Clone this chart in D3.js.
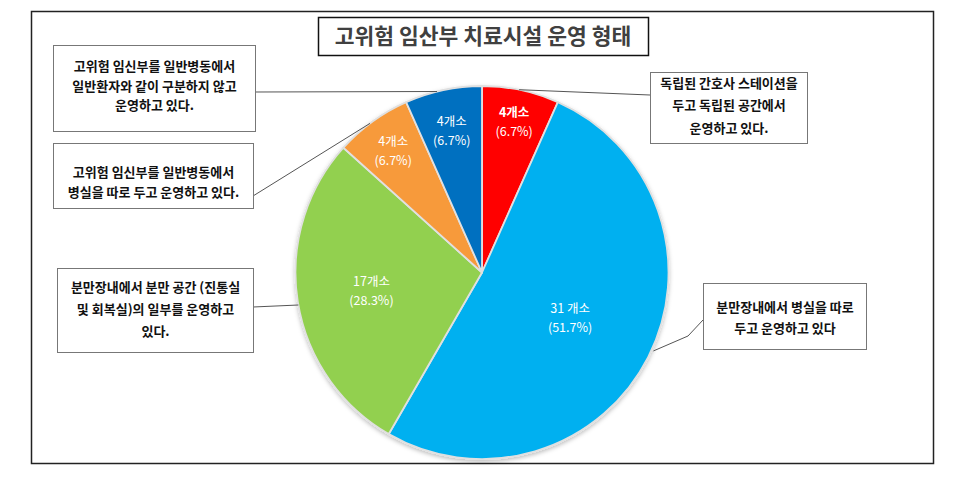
<!DOCTYPE html>
<html><head><meta charset="utf-8">
<script src="https://cdn.jsdelivr.net/npm/d3@7"></script>
<style>body{margin:0;background:#fff}svg{display:block}text{font-family:"Noto Sans CJK KR","Noto Sans",sans-serif}</style>
</head><body>
<script>
const title = "고위험 임산부 치료시설 운영 형태";
const categories = [
  "독립된 간호사 스테이션을 두고 독립된 공간에서 운영하고 있다.",
  "분만장내에서 병실을 따로 두고 운영하고 있다",
  "분만장내에서 분만 공간 (진통실 및 회복실)의 일부를 운영하고 있다.",
  "고위험 임신부를 일반병동에서 병실을 따로 두고 운영하고 있다.",
  "고위험 임신부를 일반병동에서 일반환자와 같이 구분하지 않고 운영하고 있다."
];
const counts = [4, 31, 17, 4, 4];
const countLabels = ["4개소", "31 개소", "17개소", "4개소", "4개소"];
const percentLabels = ["(6.7%)", "(51.7%)", "(28.3%)", "(6.7%)", "(6.7%)"];
const colors = ["#FF0000", "#00B0F0", "#92D050", "#F79A3A", "#0070C0"];
const boxLines = [
  ["독립된 간호사 스테이션을", "두고 독립된 공간에서", "운영하고 있다."],
  ["분만장내에서 병실을 따로", "두고 운영하고 있다"],
  ["분만장내에서 분만 공간 (진통실", "및 회복실)의 일부를 운영하고", "있다."],
  ["고위험 임신부를 일반병동에서", "병실을 따로 두고 운영하고 있다."],
  ["고위험 임신부를 일반병동에서", "일반환자와 같이 구분하지 않고", "운영하고 있다."]
];

const W = 954, H = 483;
const svg = d3.select("body").append("svg").attr("width", W).attr("height", H);

// outer frame
svg.append("rect").attr("x", 31.5).attr("y", 11.5).attr("width", 902).attr("height", 452)
  .attr("fill", "#fff").attr("stroke", "#222").attr("stroke-width", 1.5);

const defs = svg.append("defs");
const f = defs.append("filter").attr("id", "sh").attr("x", "-20%").attr("y", "-20%").attr("width", "140%").attr("height", "140%");
f.append("feDropShadow").attr("dx", 0).attr("dy", 2).attr("stdDeviation", 2).attr("flood-color", "#000").attr("flood-opacity", 0.25);

const cx = 482, cy = 272.5, R = 186.5;
const pie = d3.pie().sort(null).value(d => d)(counts);
const arc = d3.arc().innerRadius(0).outerRadius(R);
const g = svg.append("g").attr("transform", `translate(${cx},${cy})`);

g.append("g").attr("filter", "url(#sh)").selectAll("path").data(pie).join("path")
  .attr("d", arc).attr("fill", (d, i) => colors[i])
  .attr("stroke", "#e0e0e0").attr("stroke-width", 1.8).attr("stroke-linejoin", "round");

const labelR = [0.83, 0.53, 0.6, 0.81, 0.78];
pie.forEach((d, i) => {
  const c = d3.arc().innerRadius(R * labelR[i]).outerRadius(R * labelR[i]).centroid(d);
  g.append("text").attr("text-anchor", "middle").attr("fill", "#fff").attr("font-size", 12.5)
    .attr("x", c[0]).attr("y", c[1] - 4).text(countLabels[i])
    .attr("font-weight", i === 0 ? 700 : 400);
  g.append("text").attr("text-anchor", "middle").attr("fill", "#fff").attr("font-size", 12.5)
    .attr("x", c[0]).attr("y", c[1] + 14.5).text(percentLabels[i]);
});

// title
svg.append("rect").attr("x", 318.5).attr("y", 17.5).attr("width", 330).attr("height", 38)
  .attr("fill", "#fff").attr("stroke", "#111").attr("stroke-width", 1.5);
svg.append("text").attr("x", 483).attr("y", 44).attr("text-anchor", "middle")
  .attr("font-size", 21.5).attr("font-weight", 700).attr("fill", "#404040").text(title);

// callout boxes
const boxes = [
  {x: 650, y: 72, w: 157, h: 71, ly: [83, 105.5, 128], ax: 650, ay: 95},
  {x: 703, y: 283, w: 163, h: 66, ly: [307, 328], ax: 703, ay: 320},
  {x: 57, y: 268, w: 196, h: 84, ly: [287, 309, 331], ax: 253, ay: 307},
  {x: 53, y: 143, w: 200, h: 65, ly: [172, 192], ax: 253, ay: 196},
  {x: 53, y: 45, w: 202, h: 86, ly: [66, 86, 105], ax: 255, ay: 92}
];
const elbow = [null, [688, 336], null, null, null];

pie.forEach((d, i) => {
  const b = boxes[i];
  let px, py;
  if (i === 0) { px = cx + R * Math.sin(0.2); py = cy - R * Math.cos(0.2); }
  else if (i === 1) { px = cx + (R + 2) * Math.sin(2.0); py = cy - (R + 2) * Math.cos(2.0); }
  else if (i === 2) { py = b.ay - 2; px = cx - Math.sqrt(R * R - (py - cy) ** 2); }
  else if (i === 3) { px = 370; py = cy - Math.sqrt(R * R - (px - cx) ** 2); }
  else { px = 437; py = cy - Math.sqrt(R * R - (px - cx) ** 2); }
  const pts = [[b.ax, b.ay]];
  if (elbow[i]) pts.push(elbow[i]);
  pts.push([px, py]);
  svg.append("polyline").attr("points", pts.map(p => p.join(",")).join(" "))
    .attr("fill", "none").attr("stroke", "#555").attr("stroke-width", 1);
});

boxes.forEach((b, i) => {
  svg.append("rect").attr("x", b.x + 0.5).attr("y", b.y + 0.5).attr("width", b.w).attr("height", b.h)
    .attr("fill", "#fff").attr("stroke", "#777").attr("stroke-width", 1);
  boxLines[i].forEach((ln, k) => {
    svg.append("text").attr("x", b.x + b.w / 2 + 0.5).attr("y", b.ly[k]).attr("dy", "0.35em")
      .attr("text-anchor", "middle").attr("font-size", 13).attr("font-weight", 700).attr("fill", "#111").text(ln);
  });
});
</script>
</body></html>
